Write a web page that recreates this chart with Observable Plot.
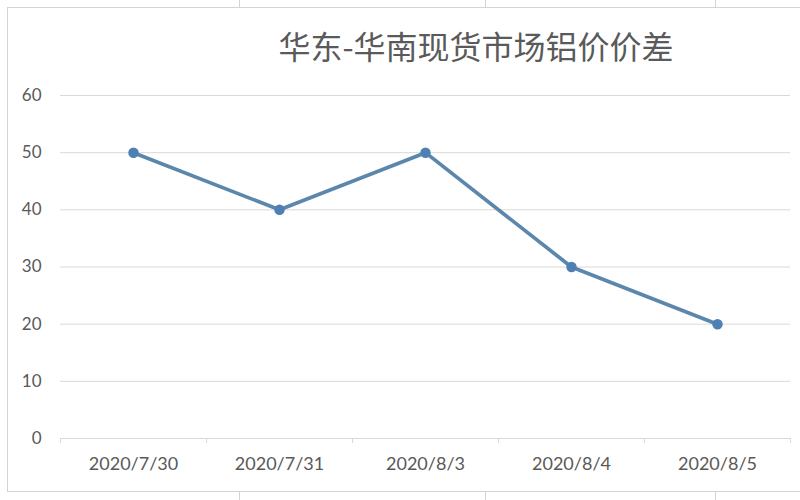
<!DOCTYPE html>
<html>
<head>
<meta charset="utf-8">
<script src="https://cdn.jsdelivr.net/npm/d3@7"></script>
<script src="https://cdn.jsdelivr.net/npm/@observablehq/plot@0.6"></script>
<style>
  html, body { margin: 0; padding: 0; background: #fff; }
  #wrap { position: relative; width: 800px; height: 500px; overflow: hidden; background: #fff; }
  #frame { position: absolute; left: 7px; top: 7px; width: 800px; height: 485px; border-left: 1px solid #d4d4d4; border-top: 1px solid #d4d4d4; border-bottom: 1px solid #d4d4d4; box-sizing: border-box; }
  .cell { position: absolute; width: 1px; background: #d4d4d4; }
  #title { position: absolute; left: 0; top: 0; width: 100%; height: 80px; }
  #title div { position: absolute; left: 476px; top: 27px; transform: translateX(-50%); white-space: nowrap;
    font-family: "Noto Sans CJK SC", sans-serif; font-size: 32px; line-height: 36px; color: #5a5a5a; }
  #chart { position: absolute; left: 0; top: 80px; }
</style>
</head>
<body>
<div id="wrap">
  <div id="frame"></div>
  <div class="cell" style="left:239px;top:0;height:7px"></div>
  <div class="cell" style="left:485px;top:0;height:7px"></div>
  <div class="cell" style="left:715px;top:0;height:7px"></div>
  <div class="cell" style="left:239px;top:492px;height:8px"></div>
  <div class="cell" style="left:485px;top:492px;height:8px"></div>
  <div class="cell" style="left:715px;top:492px;height:8px"></div>
  <div id="title"><div>华东-华南现货市场铝价价差</div></div>
  <div id="chart"></div>
</div>
<script>
const title = "华东-华南现货市场铝价价差";
const dates = ["2020/7/30", "2020/7/31", "2020/8/3", "2020/8/4", "2020/8/5"];
const values = [50, 40, 50, 30, 20];
const yTicks = [0, 10, 20, 30, 40, 50, 60];

const data = dates.map((d, i) => ({i, date: d, value: values[i]}));
const boundaries = d3.range(dates.length + 1).map(k => k - 0.5);

const lineColor = "#5b87ad";
const gridColor = "#d9d9d9";
const textColor = "#595959";

const plot = Plot.plot({
  width: 800,
  height: 420,
  marginLeft: 60,
  marginRight: 10,
  marginTop: 15,
  marginBottom: 62,
  style: { fontFamily: "Lato, 'Liberation Sans', sans-serif", color: textColor, background: "transparent" },
  x: { type: "linear", domain: [-0.5, dates.length - 0.5] },
  y: { domain: [0, 60] },
  marks: [
    Plot.gridY(yTicks.filter(t => t > 0), { stroke: gridColor, strokeOpacity: 1, strokeWidth: 1 }),
    Plot.ruleY([0], { stroke: gridColor, strokeWidth: 1.2 }),
    Plot.axisY(yTicks, { tickSize: 0, tickPadding: 19, fontSize: 17, fill: textColor, label: null }),
    Plot.axisX(boundaries, { tickSize: 5, stroke: gridColor, tickFormat: () => "", label: null }),
    Plot.axisX(d3.range(dates.length), { tickSize: 0, tickPadding: 19, fontSize: 18, fill: textColor, tickFormat: i => dates[i], label: null }),
    Plot.line(data, { x: "i", y: "value", stroke: lineColor, strokeWidth: 3.7, strokeLinejoin: "round", strokeLinecap: "round" }),
    Plot.dot(data, { x: "i", y: "value", r: 4.5, fill: "#4f80b3", stroke: "#4f80b3" })
  ]
});
document.getElementById("chart").appendChild(plot);
</script>
</body>
</html>
